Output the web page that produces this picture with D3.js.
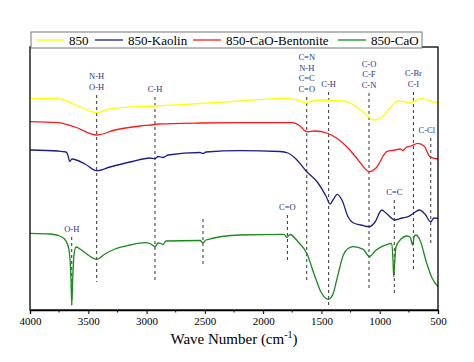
<!DOCTYPE html>
<html>
<head>
<meta charset="utf-8">
<script src="https://cdn.jsdelivr.net/npm/d3@7"></script>
<style>
  body { margin: 0; background: #fff; }
  svg text { font-family: 'Liberation Serif', 'Times New Roman', serif; }
</style>
</head>
<body>
<div id="chart"></div>
<script>
// wavenumber (cm-1), transmittance offset (a.u.)
var s850 = [[4000,211.7],[3828,211.5],[3743,211],[3571,203],[3428,197.3],[3314,201],[3142,203],[2928,204],[2542,206.5],[2199,209],[1830,211.7],[1701,210],[1626,207],[1581,209],[1495,210],[1341,209.5],[1255,207],[1152,199],[1049,190],[980,193],[912,202],[843,209],[783,208.3],[740,207],[700,209.5],[640,211.7],[569,209],[500,207.3]];

var sKaolin = [[4000,160],[3760,159],[3691,158],[3674,154.5],[3660,148.5],[3640,151],[3528,146],[3428,139.3],[3314,143],[3142,148],[2971,152],[2928,151.3],[2902,153.5],[2859,152.5],[2816,155],[2542,157.5],[2516,156.5],[2490,158],[2199,159.3],[1855,158.5],[1787,157],[1727,152],[1626,138.3],[1529,127],[1461,114],[1426,106],[1401,110],[1364,115.7],[1324,110],[1272,93.3],[1229,87.3],[1160,85],[1089,83.3],[1040,88],[983,100],[937,96],[869,90],[809,92],[755,93.3],[706,97],[660,100],[612,96],[563,88.3],[535,92],[500,91.7]];

var sBentonite = [[4000,188.3],[3760,187.3],[3614,183],[3428,175],[3271,180],[3056,184],[2928,185.5],[2902,186],[2542,187],[2199,187.3],[1744,187.3],[1684,184],[1626,178.3],[1555,179],[1455,177],[1384,173],[1298,165],[1212,154],[1152,145],[1089,138.3],[1032,142],[940,158.3],[869,160],[826,161],[800,159.5],[774,162.5],[732,164],[672,166.7],[620,164],[569,153.3],[500,151]];

var sCaO = [[4000,76.7],[3828,76],[3743,74],[3691,69],[3665,60],[3648,30],[3642,5],[3634,30],[3623,55],[3605,63],[3571,61],[3502,55],[3428,50.7],[3357,56],[3271,61],[3142,65],[3013,67.3],[2971,66.5],[2928,63.3],[2902,67],[2876,66.5],[2859,65.5],[2833,69],[2542,69.5],[2516,67],[2490,70],[2199,75],[1821,75.7],[1795,72.5],[1770,75.5],[1701,68.3],[1626,56.7],[1555,33.3],[1504,18],[1441,10.7],[1401,16],[1369,30],[1312,55],[1272,61.5],[1226,63.3],[1141,60.7],[1089,53.3],[1040,59],[983,63.3],[946,65],[897,66.7],[886,50],[880,33.3],[873,45],[860,63.3],[817,71],[769,74],[740,73],[717,65],[706,73],[689,75],[655,70],[597,46.7],[551,32],[500,23.3]];

var seriesNames = ["850", "850-Kaolin", "850-CaO-Bentonite", "850-CaO"];
var seriesColors = ["#ffff00", "#1c1c8a", "#ff1a1a", "#1a8a1a"];
var seriesData = [s850, sKaolin, sBentonite, sCaO];

// band markers: position, dashed span (a.u.), labels stacked above
var bands = [
  { w: 3642, top: 73, bottom: 5, labels: ["O-H"] },
  { w: 3428, top: 215, bottom: 28, labels: ["N-H", "O-H"] },
  { w: 2928, top: 213, bottom: 30, labels: ["C-H"] },
  { w: 2516, top: 91, bottom: 43, labels: [] },
  { w: 1792, top: 95, bottom: 47, labels: ["C=O"] },
  { w: 1626, top: 213, bottom: 28, labels: ["C=N", "N-H", "C=C", "C=O"] },
  { w: 1438, top: 218, bottom: 5, labels: ["C-H"] },
  { w: 1092, top: 217, bottom: 20, labels: ["C-O", "C-F", "C-N"] },
  { w: 875, top: 110, bottom: 17, labels: ["C=C"] },
  { w: 711, top: 218, bottom: 38, labels: ["C-Br", "C-I"] },
  { w: 562, top: 172, bottom: 67, labels: ["C-Cl"], dx: -4 }
];

var xTicks = [4000, 3500, 3000, 2500, 2000, 1500, 1000, 500];
var xMinor = [3750, 3250, 2750, 2250, 1750, 1250, 750];

(function () {
  var width = 474, height = 362;
  var mLeft = 30, mRight = 438, mTop = 47, mBottom = 310;
  var serif = "'Liberation Serif', 'Times New Roman', serif";

  var svg = d3.select("#chart").append("svg")
    .attr("width", width)
    .attr("height", height);

  var x = d3.scaleLinear().domain([4000, 500]).range([mLeft, mRight]);
  var y = d3.scaleLinear().domain([0, 263]).range([mBottom, mTop]);

  var line = d3.line()
    .x(d => x(d[0]))
    .y(d => y(d[1]))
    .curve(d3.curveMonotoneX);

  // dashed band markers
  var bandG = svg.append("g").attr("class", "bands");
  bands.forEach(b => {
    bandG.append("line")
      .attr("x1", x(b.w)).attr("x2", x(b.w))
      .attr("y1", y(b.top)).attr("y2", y(b.bottom))
      .attr("stroke", "#333")
      .attr("stroke-width", 1)
      .attr("stroke-dasharray", "3,3");
    var n = b.labels.length;
    b.labels.forEach((t, i) => {
      bandG.append("text")
        .attr("x", x(b.w) + (b.dx || 0))
        .attr("y", y(b.top) - 5 - (n - 1 - i) * 10.7)
        .attr("text-anchor", "middle")
        .style("font-family", serif)
        .attr("font-size", 8.5)
        .attr("fill", "#2e3192")
        .text(t);
    });
  });

  // spectra
  svg.append("g").selectAll("path")
    .data(seriesData)
    .enter().append("path")
    .attr("d", line)
    .attr("fill", "none")
    .attr("stroke", (d, i) => seriesColors[i])
    .attr("stroke-width", 1.3);

  // frame
  svg.append("rect")
    .attr("x", mLeft).attr("y", mTop)
    .attr("width", mRight - mLeft).attr("height", mBottom - mTop)
    .attr("fill", "none")
    .attr("stroke", "#000")
    .attr("stroke-width", 1.3);

  // x axis
  var axis = svg.append("g")
    .attr("transform", "translate(0," + mBottom + ")")
    .call(d3.axisBottom(x).tickValues(xTicks).tickFormat(d3.format("d")).tickSize(4).tickPadding(3));
  axis.select(".domain").attr("stroke-width", 1.3);
  axis.selectAll("text")
    .style("font-family", serif)
    .attr("font-size", 11)
    .attr("fill", "#000");

  svg.append("g").selectAll("line")
    .data(xMinor)
    .enter().append("line")
    .attr("x1", d => x(d)).attr("x2", d => x(d))
    .attr("y1", mBottom).attr("y2", mBottom + 2.5)
    .attr("stroke", "#000");

  var title = svg.append("text")
    .attr("x", (mLeft + mRight) / 2)
    .attr("y", 344)
    .attr("text-anchor", "middle")
    .style("font-family", serif)
    .attr("font-size", 15);
  title.append("tspan").text("Wave Number (cm");
  title.append("tspan").attr("dy", -6).attr("font-size", 10).text("-1");
  title.append("tspan").attr("dy", 6).text(")");

  // legend
  var lg = svg.append("g");
  lg.append("rect")
    .attr("x", 31).attr("y", 32)
    .attr("width", 391).attr("height", 16)
    .attr("fill", "#fff")
    .attr("stroke", "#777")
    .attr("stroke-width", 1);

  var legendX = [36, 95, 193, 338];
  seriesNames.forEach((name, i) => {
    lg.append("line")
      .attr("x1", legendX[i]).attr("x2", legendX[i] + 28)
      .attr("y1", 40).attr("y2", 40)
      .attr("stroke", seriesColors[i])
      .attr("stroke-width", 1.3);
    lg.append("text")
      .attr("x", legendX[i] + 33)
      .attr("y", 45)
      .style("font-family", serif)
      .attr("font-size", 13)
      .text(name);
  });
})();
</script>
</body>
</html>
